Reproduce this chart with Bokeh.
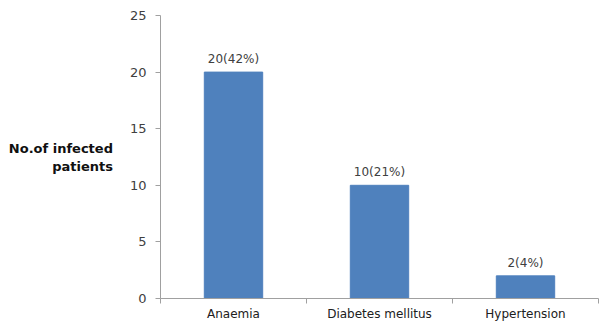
from bokeh.plotting import figure
from bokeh.models import FixedTicker, Range1d, ColumnDataSource, LabelSet
from bokeh.core.properties import value
from bokeh.embed import file_html
from bokeh.resources import INLINE

categories = ["Anaemia", "Diabetes mellitus", "Hypertension"]
counts = [20, 10, 2]
labels = ["20(42%)", "10(21%)", "2(4%)"]
y_ticks = [0, 5, 10, 15, 20, 25]
y_title = "No.of infected\npatients"

xs = [i + 0.5 for i in range(len(categories))]
src = ColumnDataSource(dict(x=xs, top=counts, lab=labels))

p = figure(width=600, height=323, output_backend="svg", toolbar_location=None,
           x_range=Range1d(0, len(categories)), y_range=Range1d(0, 25),
           min_border_left=160, min_border_right=2, min_border_top=15, min_border_bottom=25)
p.outline_line_color = None
p.xgrid.visible = False
p.ygrid.visible = False
p.background_fill_color = "white"
p.border_fill_color = "white"

p.vbar(x="x", top="top", width=0.4, bottom=0, source=src, color="#4F81BD")
p.add_layout(LabelSet(x="x", y="top", text="lab", source=src, text_align="center",
                      text_baseline="bottom", y_offset=6, text_font=value("DejaVu Sans"),
                      text_font_size=value("12px"), text_color="#404040"))

gray = "#A0A0A0"
# x axis
xa = p.xaxis[0]
xa.ticker = FixedTicker(ticks=xs, minor_ticks=list(range(len(categories) + 1)))
xa.major_label_overrides = {x: c for x, c in zip(xs, categories)}
xa.major_tick_line_color = None
xa.major_tick_out = 0
xa.major_tick_in = 0
xa.minor_tick_out = 5
xa.minor_tick_in = 0
xa.minor_tick_line_color = gray
xa.axis_line_color = gray
xa.major_label_standoff = 3
xa.major_label_text_font = "DejaVu Sans"
xa.major_label_text_font_size = "12px"
xa.major_label_text_color = "#202020"

# y axis
ya = p.yaxis[0]
ya.ticker = FixedTicker(ticks=y_ticks)
ya.minor_tick_line_color = None
ya.major_tick_out = 5
ya.major_tick_in = 0
ya.major_tick_line_color = gray
ya.axis_line_color = gray
ya.major_label_standoff = 9
ya.major_label_text_font = "DejaVu Sans"
ya.major_label_text_font_size = "13px"
ya.major_label_text_color = "#404040"
ya.axis_label = y_title
ya.axis_label_orientation = "horizontal"
ya.axis_label_text_align = "center"
ya.axis_label_text_font = "DejaVu Sans"
ya.axis_label_text_font_style = "bold"
ya.axis_label_text_font_size = "13px"
ya.axis_label_text_color = "#101010"
ya.axis_label_standoff = 14

open("out.html", "w").write(file_html(p, INLINE))
